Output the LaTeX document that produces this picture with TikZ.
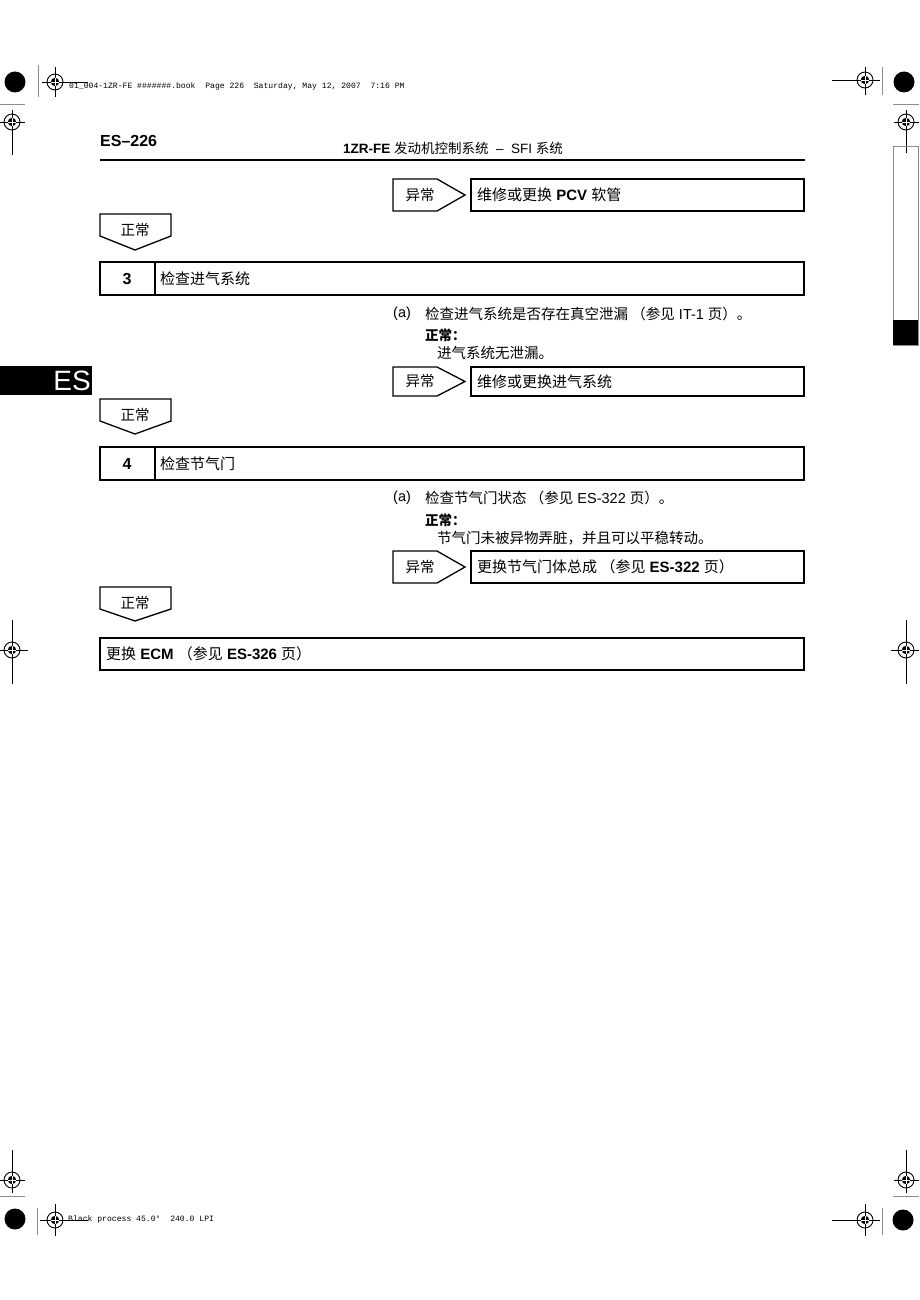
\documentclass[tikz,border=0pt]{standalone}
\usepackage{fontspec}
\setmainfont{Liberation Sans}
\newfontfamily\cjk{Noto Sans CJK SC}
\newfontfamily\mono{Liberation Mono}
\begin{document}
\begin{tikzpicture}[x=1pt,y=-1pt,
  frame/.style={draw,line width=1.3pt},
  txt/.style={anchor=west,inner sep=0pt,font=\fontsize{15}{17}\selectfont},
  lbl/.style={inner sep=0pt,font=\cjk\fontsize{14.5}{16}\selectfont},
  body/.style={anchor=west,inner sep=0pt,font=\fontsize{14.5}{17}\selectfont},
  crop/.style={line width=0.7pt},
  grayline/.style={draw=black!45,line width=0.8pt},
  regmark/.pic={\draw[line width=0.9pt] (0,0) circle[radius=8];
                \fill (0,0) circle[radius=4.2];
                \draw[white,line width=0.7pt] (-4.2,0)--(4.2,0) (0,-4.2)--(0,4.2);}]
\useasboundingbox (0,0) rectangle (919,1300);
\fill[white] (0,0) rectangle (919,1300);

% ---------- printer marks ----------
\node[anchor=west,inner sep=0pt,font=\mono\fontsize{8.1}{9}\selectfont] (slug1) at (69,86) {01\_004-1ZR-FE \#\#\#\#\#\#\#.book\ \ Page 226\ \ Saturday, May 12, 2007\ \ 7:16 PM};
\node[anchor=west,inner sep=0pt,font=\mono\fontsize{8.1}{9}\selectfont] (slug2) at (68,1219) {Black process 45.0°\ \ 240.0 LPI};
% top-left
\fill (15,82) circle[radius=10.5];
\draw[grayline] (38,65)--(38,97);
\draw[crop] (42,82)--(88,82) (55,67)--(55,97);
\pic at (55,82) {regmark};
\draw[grayline] (0,104)--(25,104);
\draw[crop] (12,110)--(12,155) (0,122)--(25,122);
\pic at (12,122) {regmark};
% top-right
\fill (904,82) circle[radius=10.5];
\draw[grayline] (882,67)--(882,95);
\draw[crop] (832,80)--(880,80) (865,67)--(865,95);
\pic at (865,80) {regmark};
\draw[grayline] (893,104)--(919,104);
\draw[crop] (906,110)--(906,153) (894,122)--(919,122);
\pic at (906,122) {regmark};
% side tab right
\draw[grayline] (893,146) rectangle (918,345);
\fill (893,320) rectangle (918,345);
% middle
\draw[crop] (12,620)--(12,684) (0,650)--(28,650);
\pic at (12,650) {regmark};
\draw[crop] (906,620)--(906,684) (891,650)--(919,650);
\pic at (906,650) {regmark};
% bottom-left
\draw[crop] (12,1150)--(12,1193) (0,1180)--(25,1180);
\pic at (12,1180) {regmark};
\draw[grayline] (0,1196)--(25,1196);
\fill (15,1219) circle[radius=10.5];
\draw[grayline] (37,1208)--(37,1235);
\draw[crop] (40,1220)--(88,1220) (55,1204)--(55,1236);
\pic at (55,1220) {regmark};
% bottom-right
\draw[crop] (906,1150)--(906,1193) (894,1180)--(919,1180);
\pic at (906,1180) {regmark};
\draw[grayline] (893,1196)--(919,1196);
\fill (903,1220) circle[radius=10.5];
\draw[grayline] (882,1208)--(882,1235);
\draw[crop] (832,1220)--(880,1220) (865,1204)--(865,1236);
\pic at (865,1220) {regmark};

% ---------- ES tab ----------
\fill (0,366) rectangle (92,395);
\node[anchor=east,inner sep=0pt,text=white,font=\fontsize{28}{30}\selectfont] (estab) at (91,381) {ES};

% ---------- header ----------
\node[anchor=west,inner sep=0pt,font=\bfseries\fontsize{16}{18}\selectfont] (pageno) at (100,141) {ES–226};
\node[anchor=west,inner sep=0pt,font=\fontsize{13.5}{16}\selectfont] (title) at (343,148)
  {\textbf{1ZR-FE} {\cjk 发动机控制系统}\ \ –\ \ SFI {\cjk 系统}};
\draw[line width=2.2pt] (100,160)--(805,160);

% ---------- abnormal branch 1 ----------
\draw[frame] (393,179)--(437,179)--(465,195)--(437,211)--(393,211)--cycle;
\node[lbl] (ab1) at (420,195) {异常};
\draw[frame] (471,179) rectangle (804,211);
\node[txt] (r1) at (477,195) {{\cjk 维修或更换} \textbf{PCV} {\cjk 软管}};

% normal 1
\draw[frame] (100,214)--(171,214)--(171,236)--(135,250)--(100,236)--cycle;
\node[lbl] (n1) at (135,230) {正常};

% ---------- step 3 ----------
\draw[frame] (100,262) rectangle (804,295);
\draw[frame] (155,262)--(155,295);
\node[inner sep=0pt,font=\bfseries\fontsize{16}{18}\selectfont] (s3) at (127,279) {3};
\node[txt] (s3t) at (160,279) {\cjk 检查进气系统};

\node[body] (a3) at (393,314) {(a)};
\node[body] (a3t) at (425,314) {{\cjk 检查进气系统是否存在真空泄漏 （参见} IT-1 {\cjk 页）。}};
\node[body,font=\cjk\bfseries\fontsize{13.5}{15}\selectfont] (ok3) at (425,335) {正常：};
\node[body,font=\cjk\fontsize{14.5}{16}\selectfont] (ok3t) at (437,353) {进气系统无泄漏。};

\draw[frame] (393,367)--(437,367)--(465,381.5)--(437,396)--(393,396)--cycle;
\node[lbl] (ab2) at (420,381.5) {异常};
\draw[frame] (471,367) rectangle (804,396);
\node[txt] (r2) at (477,381.5) {\cjk 维修或更换进气系统};

% normal 2
\draw[frame] (100,399)--(171,399)--(171,421)--(135,434)--(100,421)--cycle;
\node[lbl] (n2) at (135,415) {正常};

% ---------- step 4 ----------
\draw[frame] (100,447) rectangle (804,480);
\draw[frame] (155,447)--(155,480);
\node[inner sep=0pt,font=\bfseries\fontsize{16}{18}\selectfont] (s4) at (127,464) {4};
\node[txt] (s4t) at (160,464) {\cjk 检查节气门};

\node[body] (a4) at (393,498) {(a)};
\node[body] (a4t) at (425,498) {{\cjk 检查节气门状态 （参见} ES-322 {\cjk 页）。}};
\node[body,font=\cjk\bfseries\fontsize{13.5}{15}\selectfont] (ok4) at (425,520) {正常：};
\node[body,font=\cjk\fontsize{14.5}{16}\selectfont] (ok4t) at (437,538) {节气门未被异物弄脏，并且可以平稳转动。};

\draw[frame] (393,551)--(437,551)--(465,567)--(437,583)--(393,583)--cycle;
\node[lbl] (ab3) at (420,567) {异常};
\draw[frame] (471,551) rectangle (804,583);
\node[txt] (r3) at (477,567) {{\cjk 更换节气门体总成 （参见} \textbf{ES-322} {\cjk 页）}};

% normal 3
\draw[frame] (100,587)--(171,587)--(171,609)--(135,621)--(100,609)--cycle;
\node[lbl] (n3) at (135,603) {正常};

% ---------- final ----------
\draw[frame] (100,638) rectangle (804,670);
\node[txt] (fin) at (106,654) {{\cjk 更换} \textbf{ECM} {\cjk （参见} \textbf{ES-326} {\cjk 页）}};
\end{tikzpicture}
\end{document}
